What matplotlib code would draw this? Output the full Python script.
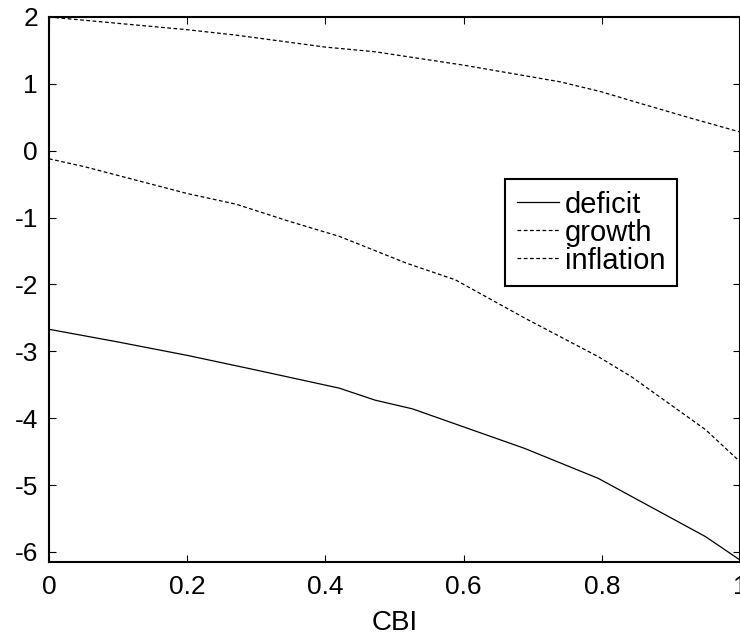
import numpy as np
import matplotlib.pyplot as plt

plt.rcParams['font.family'] = ['Liberation Sans', 'DejaVu Sans']
plt.rcParams['axes.unicode_minus'] = False

# data
cbi_def = [0, 0.1, 0.2, 0.3, 0.42, 0.472, 0.526, 0.688, 0.795, 0.95, 1.0]
deficit = [-2.67, -2.86, -3.06, -3.28, -3.55, -3.73, -3.86, -4.45, -4.90, -5.77, -6.12]

cbi_gro = [0, 0.2, 0.27, 0.4, 0.472, 0.6, 0.74, 0.8, 0.855, 0.928, 1.0]
growth = [2.0, 1.81, 1.73, 1.55, 1.48, 1.28, 1.03, 0.88, 0.71, 0.49, 0.28]

cbi_inf = [0, 0.052, 0.2, 0.271, 0.349, 0.42, 0.517, 0.588, 0.688, 0.795, 0.843, 0.95, 1.0]
inflation = [-0.12, -0.24, -0.64, -0.80, -1.06, -1.28, -1.68, -1.93, -2.50, -3.08, -3.38, -4.17, -4.65]

xticks = [0, 0.2, 0.4, 0.6, 0.8, 1]
xticklabels = ['0', '0.2', '0.4', '0.6', '0.8', '1']
yticks = [-6, -5, -4, -3, -2, -1, 0, 1, 2]

fig = plt.figure(figsize=(7.4, 6.4), dpi=100)
ax = fig.add_axes([49/740, 1 - 562/640, 691/740, 545/640])

dash = (0, (3, 2))
ax.plot(cbi_def, deficit, 'k-', lw=0.9, label='deficit')
ax.plot(cbi_gro, growth, 'k', ls=dash, lw=0.9, label='growth')
ax.plot(cbi_inf, inflation, 'k', ls=dash, lw=0.9, label='inflation')

ax.set_xlim(0, 1)
ax.set_ylim(-6.15, 2)
ax.set_xticks(xticks)
ax.set_xticklabels(xticklabels)
ax.set_yticks(yticks)
ax.tick_params(direction='in', top=True, right=True, length=5, width=0.8,
               labelsize=19)
ax.tick_params(axis='x', pad=9)
ax.tick_params(axis='y', pad=8)
for s in ax.spines.values():
    s.set_linewidth(1.5)
ax.set_xlabel('CBI', fontsize=20, labelpad=8)

#legend box
leg = ax.legend(loc='upper right', bbox_to_anchor=(628/691, 383/545),
                borderaxespad=0, fontsize=21, fancybox=False, edgecolor='k',
                framealpha=1, handlelength=1.45, handletextpad=0.2,
                labelspacing=0.0, borderpad=0.4)
leg.get_frame().set_linewidth(1.5)

fig.savefig('out.png', dpi=100)
